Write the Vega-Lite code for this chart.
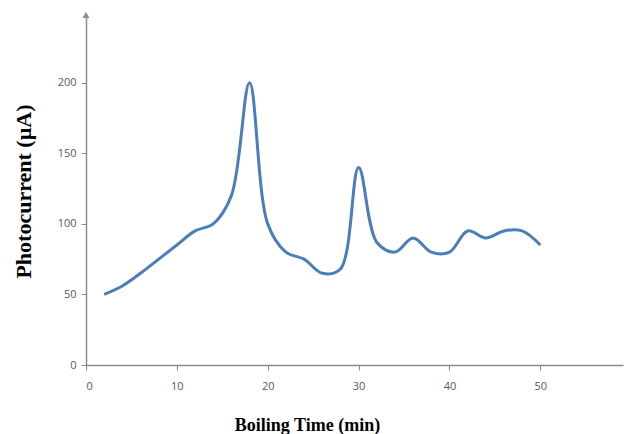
{
  "$schema": "https://vega.github.io/schema/vega-lite/v6.json",
  "width": 537,
  "height": 350,
  "autosize": {"type": "none"},
  "padding": {"left": 86, "top": 15, "right": 1, "bottom": 69},
  "background": "white",
  "config": {"view": {"stroke": null}},
  "datasets": {
    "curve": [
      {"t": 2, "i": 50},
      {"t": 4, "i": 56},
      {"t": 6, "i": 65},
      {"t": 8, "i": 75},
      {"t": 10, "i": 85},
      {"t": 12, "i": 95},
      {"t": 14, "i": 100},
      {"t": 16, "i": 120},
      {"t": 18, "i": 200},
      {"t": 20, "i": 100},
      {"t": 22, "i": 80},
      {"t": 24, "i": 75},
      {"t": 26, "i": 65},
      {"t": 28, "i": 68},
      {"t": 30, "i": 140},
      {"t": 32, "i": 87},
      {"t": 34, "i": 80},
      {"t": 36, "i": 90},
      {"t": 38, "i": 80},
      {"t": 40, "i": 80},
      {"t": 42, "i": 95},
      {"t": 44, "i": 90},
      {"t": 46, "i": 95},
      {"t": 48, "i": 95},
      {"t": 50, "i": 85}
    ],
    "arrow": [{"t": 0, "i": 248}]
  },
  "layer": [
    {
      "data": {"name": "curve"},
      "mark": {"type": "line", "interpolate": "catmull-rom", "color": "#4A7EBB", "strokeWidth": 3, "clip": false},
      "encoding": {
        "x": {
          "field": "t", "type": "quantitative",
          "scale": {"domain": [0, 59.1], "nice": false, "zero": true},
          "axis": {
            "values": [0, 10, 20, 30, 40, 50],
            "grid": false,
            "domainColor": "#8C8C8C", "domainWidth": 1.5,
            "tickColor": "#8C8C8C", "tickSize": 5, "tickWidth": 1,
            "labelFont": "Open Sans", "labelFontSize": 11, "labelColor": "#595959",
            "labelPadding": 10,
            "title": "Boiling Time (min)",
            "titleFont": "Liberation Serif", "titleFontSize": 18, "titleFontWeight": "bold",
            "titleColor": "#000000",
            "titleX": 221, "titleY": 65, "titleBaseline": "alphabetic", "titleAnchor": "middle"
          }
        },
        "y": {
          "field": "i", "type": "quantitative",
          "scale": {"domain": [0, 248], "nice": false},
          "axis": {
            "values": [0, 50, 100, 150, 200],
            "grid": false,
            "domainColor": "#8C8C8C", "domainWidth": 1.5,
            "tickColor": "#8C8C8C", "tickSize": 5, "tickWidth": 1,
            "labelFont": "Open Sans", "labelFontSize": 11, "labelColor": "#595959",
            "labelPadding": 5,
            "title": "Photocurrent (µA)",
            "titleFont": "Liberation Serif", "titleFontSize": 22, "titleFontWeight": "bold",
            "titleColor": "#000000",
            "titleX": -63, "titleY": 176, "titleAnchor": "middle", "titleAngle": -90,
            "titleBaseline": "middle"
          }
        }
      }
    },
    {
      "data": {"name": "arrow"},
      "mark": {"type": "point", "shape": "triangle-up", "filled": true, "color": "#8C8C8C", "size": 50, "opacity": 1, "clip": false},
      "encoding": {
        "x": {"field": "t", "type": "quantitative"},
        "y": {"field": "i", "type": "quantitative"}
      }
    }
  ]
}
